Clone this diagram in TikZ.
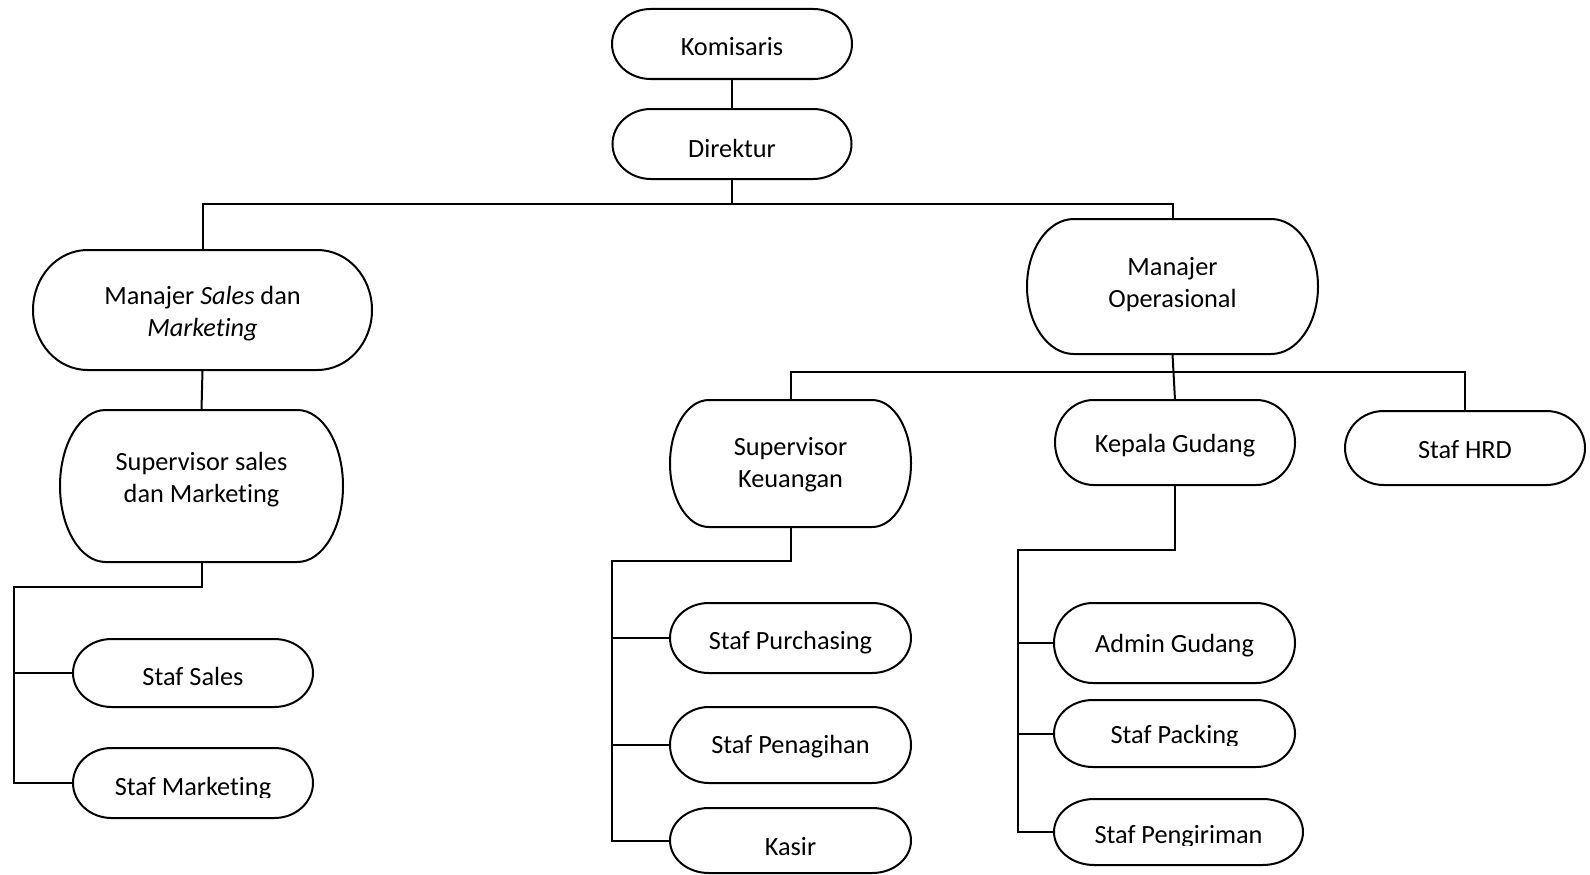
\documentclass[tikz,border=0pt]{standalone}
\usepackage{fontspec}
\setmainfont{Carlito}[Ligatures={NoCommon}]
\usetikzlibrary{calc}
\tikzset{
  boxnode/.style={shape=rectangle, inner sep=0pt, outer sep=0pt, draw=none},
  boxline/.style={draw=black, line width=2pt, fill=white},
  conn/.style={draw=black, line width=2pt},
  lbl/.style={anchor=base, inner sep=0pt, outer sep=0pt, font=\fontsize{26.3}{32.5}\selectfont}
}
% name, cx, cy (from top), width, height
\newcommand\termbox[5]{%
  \node[boxnode, minimum width=#4pt, minimum height=#5pt] (#1) at (#2,-#3) {};
  \pgfmathsetmacro\trx{0.161*#4}\pgfmathsetmacro\thw{#4/2}\pgfmathsetmacro\thh{#5/2}
  \draw[boxline, shift={(#1.center)}] (-\thw+\trx,-\thh) -- (\thw-\trx,-\thh)
     arc[start angle=-90,end angle=90,x radius=\trx,y radius=\thh]
     -- (-\thw+\trx,\thh)
     arc[start angle=90,end angle=270,x radius=\trx,y radius=\thh] -- cycle;
}
\begin{document}
\begin{tikzpicture}[x=1pt,y=1pt]
\useasboundingbox[fill=white] (0,0) rectangle (1590,-875);

% shapes
\termbox{kom}{732}{44}{240}{70}
\termbox{dir}{732}{144}{239}{70}
\termbox{ms}{202.5}{310}{339}{120}
\termbox{mo}{1172.5}{286.5}{291}{135}
\termbox{ss}{201.5}{486}{283}{152}
\termbox{ssa}{193}{673}{240}{68}
\termbox{sm}{193}{783}{240}{70}
\termbox{sk}{790.5}{463.5}{241}{127}
\termbox{kg}{1175}{442.5}{240}{85}
\termbox{hrd}{1465}{448}{240}{74}
\termbox{sp}{790.5}{638}{241}{70}
\termbox{pn}{790.5}{745}{241}{76}
\termbox{ks}{790.5}{840.5}{241}{65}
\termbox{ag}{1174.5}{643}{241}{80}
\termbox{pk}{1174.5}{733.5}{241}{67}
\termbox{pg}{1178.5}{832}{249}{66}

% connectors
\coordinate (b1) at (732,-203.5);
\coordinate (b2) at (14,-587);
\coordinate (b3) at (1172.5,-371.5);
\coordinate (b4) at (612,-561);
\coordinate (b5) at (1018,-550);

\draw[conn] (kom.south) -- (dir.north);
\draw[conn] (dir.south) -- (b1);
\draw[conn] (ms.north) |- (b1) -| (mo.north);
\draw[conn] (ms.south) -- (ss.north);
\draw[conn] (ss.south) |- (b2) |- (sm.west);
\draw[conn] (b2 |- ssa.west) -- (ssa.west);
\draw[conn] (mo.south) -- (kg.north);
\draw[conn] (sk.north) |- (b3) -| (hrd.north);
\draw[conn] (sk.south) |- (b4) |- (ks.west);
\draw[conn] (b4 |- sp.west) -- (sp.west);
\draw[conn] (b4 |- pn.west) -- (pn.west);
\draw[conn] (kg.south) |- (b5) |- (pg.west);
\draw[conn] (b5 |- ag.west) -- (ag.west);
\draw[conn] (b5 |- pk.west) -- (pk.west);

% texts
\node[lbl] (kom-t) at (732,-56) {Komisaris};
\node[lbl] (dir-t) at (732,-157) {Direktur};
\node[lbl] (ms-t) at (202.5,-304) {\begin{tabular}[t]{@{}c@{}}Manajer \textit{Sales} dan\\\textit{Marketing}\end{tabular}};
\node[lbl] (mo-t) at (1172.5,-275) {\begin{tabular}[t]{@{}c@{}}Manajer\\Operasional\end{tabular}};
\node[lbl] (ss-t) at (201.5,-470) {\begin{tabular}[t]{@{}c@{}}Supervisor sales\\dan Marketing\end{tabular}};
\node[lbl] (sk-t) at (790.5,-455) {\begin{tabular}[t]{@{}c@{}}Supervisor\\Keuangan\end{tabular}};
\node[lbl] (kg-t) at (1175,-452) {Kepala Gudang};
\node[lbl] (hrd-t) at (1465,-458) {Staf HRD};
\node[lbl] (ssa-t) at (193,-685) {Staf Sales};
\begin{scope}
  \clip (80,-750) rectangle (306,-797);
  \node[lbl] (sm-t) at (193,-795) {Staf Marketing};
\end{scope}
\node[lbl] (sp-t) at (790.5,-649) {Staf Purchasing};
\node[lbl] (pn-t) at (790.5,-753) {Staf Penagihan};
\node[lbl] (ks-t) at (790.5,-855) {Kasir};
\node[lbl] (ag-t) at (1174.5,-652) {Admin Gudang};
\begin{scope}
  \clip (1062,-702) rectangle (1288,-745);
  \node[lbl] (pk-t) at (1174.5,-743) {Staf Packing};
\end{scope}
\begin{scope}
  \clip (1062,-801) rectangle (1296,-845);
  \node[lbl] (pg-t) at (1178.5,-843) {Staf Pengiriman};
\end{scope}
\end{tikzpicture}
\end{document}
